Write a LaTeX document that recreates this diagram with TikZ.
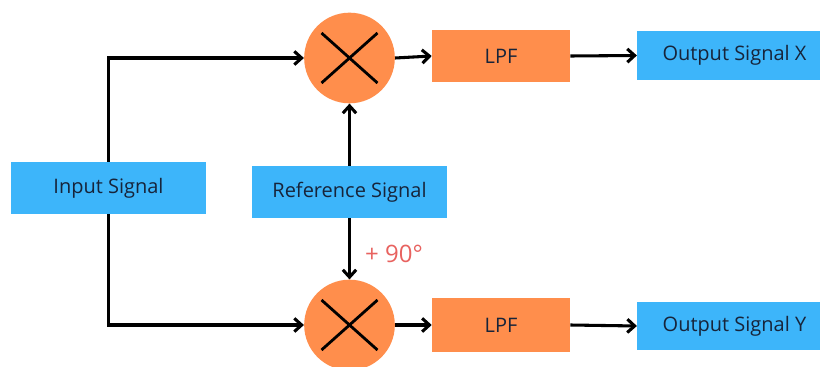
\documentclass[tikz,border=0pt]{standalone}
\usepackage{fontspec}
\setmainfont{Open Sans}
\usetikzlibrary{arrows.meta}
\definecolor{boxblue}{HTML}{3DB5FA}
\definecolor{boxorange}{HTML}{FF8E4C}
\definecolor{txt}{HTML}{17243A}
\definecolor{lblred}{HTML}{E8625F}
\begin{document}
\begin{tikzpicture}[x=0.75pt,y=-0.75pt,
  bluebox/.style={fill=boxblue,draw=none,text=txt,inner sep=0pt,font=\fontsize{15}{18}\selectfont},
  lpfbox/.style={fill=boxorange,draw=none,text=txt,inner sep=0pt,minimum width=103.5pt,minimum height=39pt,font=\fontsize{15}{18}\selectfont},
  mixer/.style={circle,fill=boxorange,draw=none,minimum size=68pt,inner sep=0pt},
  arr/.style={line width=2.3pt,-{Straight Barb[length=5.5pt,width=10pt,line width=2.3pt]}},
  xline/.style={line width=2.1pt}]
\useasboundingbox (0,0) rectangle (820,367);
\fill[white] (0,0) rectangle (820,367);
\node[bluebox,minimum width=146pt,minimum height=39pt] (in) at (108.5,188) {Input Signal};
\node[bluebox,minimum width=146pt,minimum height=39pt] (ref) at (349.5,192) {Reference Signal};
\node[mixer] (m1) at (349.5,58) {};
\node[mixer] (m2) at (349.5,325) {};
\draw[xline] ([shift={(-28,-25)}]m1.center) -- ([shift={(28,25)}]m1.center);
\draw[xline] ([shift={(-28,25)}]m1.center) -- ([shift={(28,-25)}]m1.center);
\draw[xline] ([shift={(-28,-25)}]m2.center) -- ([shift={(28,25)}]m2.center);
\draw[xline] ([shift={(-28,25)}]m2.center) -- ([shift={(28,-25)}]m2.center);
\node[lpfbox] (l1) at (501,56) {LPF};
\node[lpfbox,minimum height=40.5pt] (l2) at (501,325) {LPF};
\node[bluebox,minimum width=146pt,minimum height=37pt] (ox) at (734.5,55.5) {Output Signal X};
\node[bluebox,minimum width=146pt,minimum height=36pt] (oy) at (734.5,326) {Output Signal Y};
\node[text=lblred,font=\fontsize{18}{22}\selectfont,inner sep=0pt] (lbl) at (394,254) {+ 90°};
\draw[arr] (in.north) |- (m1.west);
\draw[arr] (in.south) |- (m2.west);
\draw[arr] (ref.north) -- (m1.south);
\draw[arr] (ref.south) -- (m2.north);
\draw[arr] (m1.east) -- (l1.west);
\draw[arr] (m2.east) -- (l2.west);
\draw[arr] (l1.east) -- (ox.west);
\draw[arr] (l2.east) -- (oy.west);
\end{tikzpicture}
\end{document}
